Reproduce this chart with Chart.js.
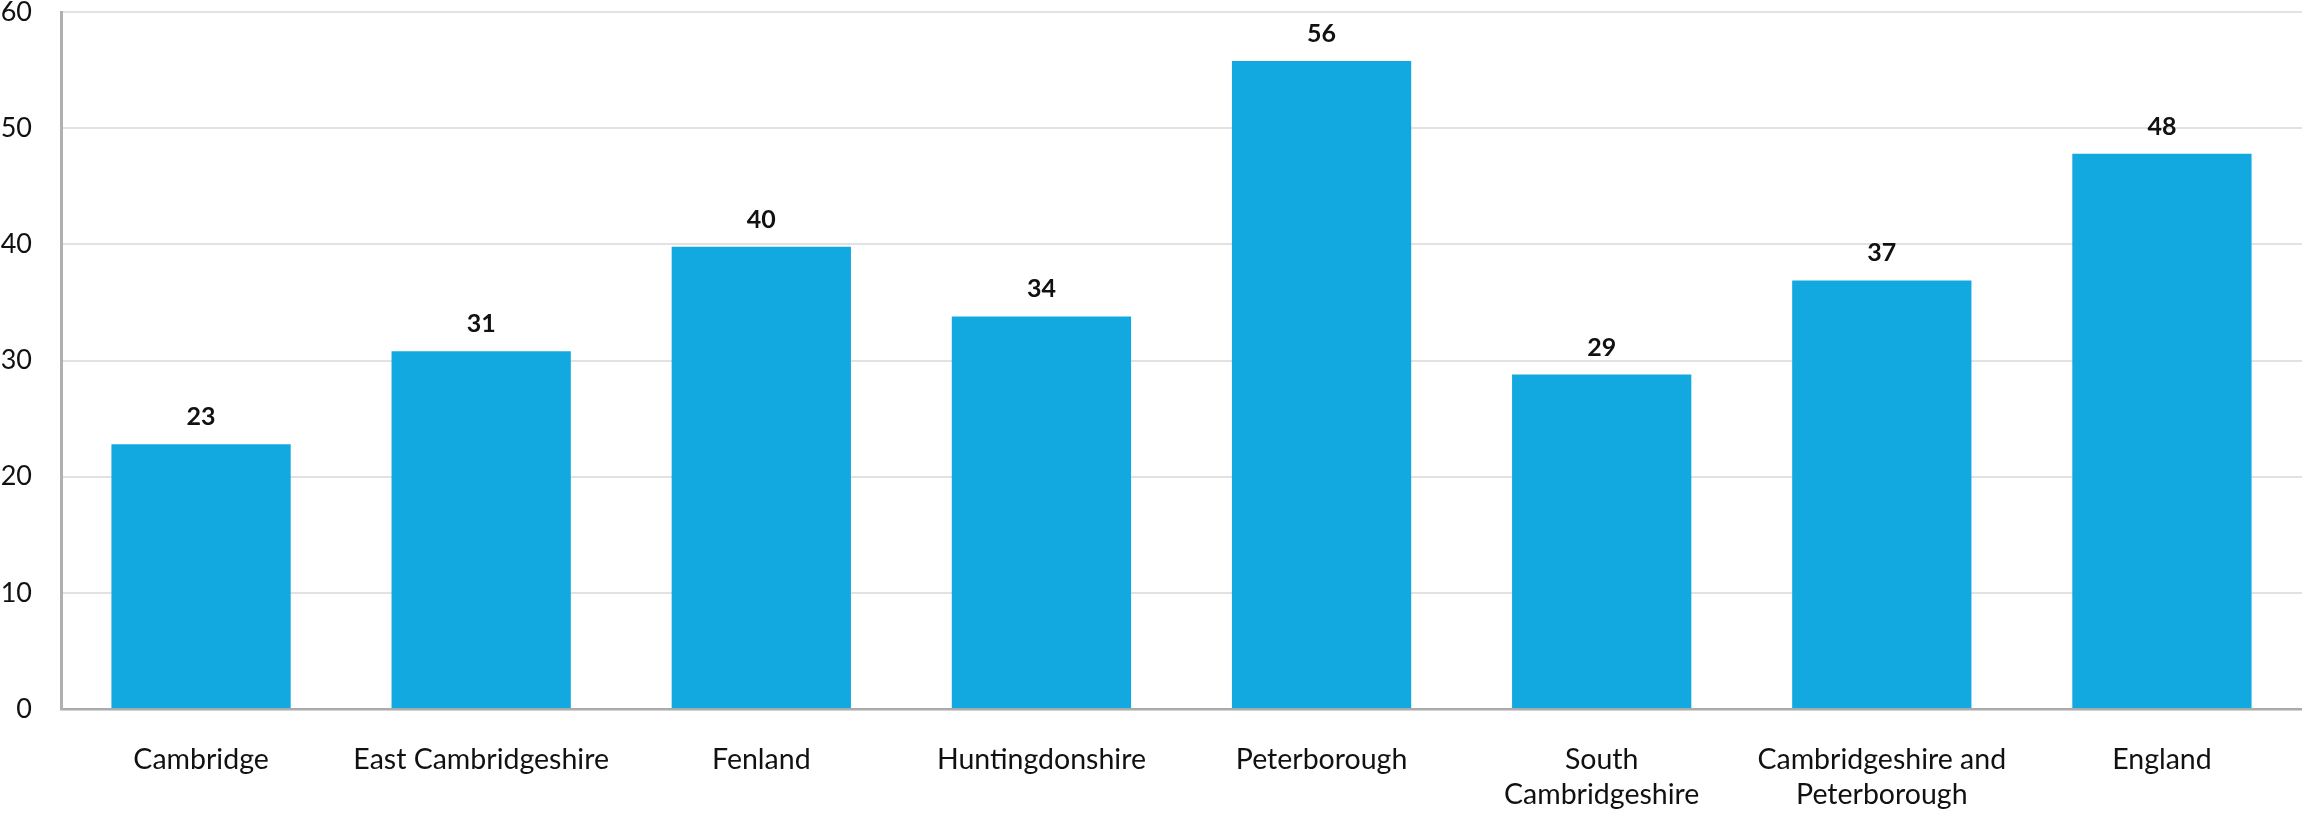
<!DOCTYPE html>
<html>
<head>
<meta charset="utf-8">
<script src="https://cdn.jsdelivr.net/npm/chart.js@4"></script>
<style>
  html, body { margin: 0; padding: 0; background: #fff; }
  #wrap { width: 2302px; height: 814px; }
</style>
</head>
<body>
<div id="wrap"><canvas id="barChart"></canvas></div>
<script>
var categories = [
  "Cambridge",
  "East Cambridgeshire",
  "Fenland",
  "Huntingdonshire",
  "Peterborough",
  ["South", "Cambridgeshire"],
  ["Cambridgeshire and", "Peterborough"],
  "England",
];
// labels show them rounded
var values = [22.8, 30.8, 39.8, 33.8, 55.8, 28.8, 36.9, 47.8];
var yTicks = [0, 10, 20, 30, 40, 50, 60];

var FONT = "Lato, sans-serif";

// draws the value above each bar
var valueLabels = {
  id: "valueLabels",
  afterDatasetsDraw: (chart) => {
    var ctx = chart.ctx;
    var meta = chart.getDatasetMeta(0);
    ctx.save();
    ctx.font = "bold 25px " + FONT;
    ctx.fillStyle = "#111";
    ctx.textAlign = "center";
    ctx.textBaseline = "alphabetic";
    meta.data.forEach((bar, i) => {
      var v = Math.round(chart.data.datasets[0].data[i]);
      ctx.fillText(v, bar.x, bar.y - 19);
    });
    ctx.restore();
  },
};

var ctxB = document.getElementById("barChart").getContext("2d");
var myBarChart = new Chart(ctxB, {
  type: "bar",
  plugins: [valueLabels],
  data: {
    labels: categories,
    datasets: [
      {
        data: values,
        backgroundColor: "#12a9e1",
        categoryPercentage: 1,
        barPercentage: 0.64,
      },
    ],
  },
  options: {
    responsive: true,
    maintainAspectRatio: false,
    animation: false,
    layout: { padding: 0 },
    plugins: {
      legend: { display: false },
      tooltip: { enabled: false },
    },
    scales: {
      x: {
        grid: { display: false, drawTicks: false },
        border: { display: true, color: "#aaaaaa", width: 2.5 },
        ticks: {
          color: "#111",
          padding: 33,
          maxRotation: 0,
          autoSkip: false,
          font: { family: FONT, size: 28.5, lineHeight: 1.23 },
        },
        afterFit: (scale) => {
          scale.height = 105;
        },
      },
      y: {
        min: 0,
        max: 60,
        afterBuildTicks: (scale) => {
          scale.ticks = yTicks.map((v) => ({ value: v }));
        },
        grid: {
          color: "#e2e2e2",
          lineWidth: 2,
          drawTicks: true,
          tickLength: 29,
          tickColor: "rgba(0,0,0,0)",
        },
        border: { display: true, color: "#b0b0b0", width: 3 },
        ticks: {
          color: "#111",
          padding: 0,
          font: { family: FONT, size: 27, lineHeight: 0.9 },
        },
        afterFit: (scale) => {
          scale.width = 61;
        },
      },
    },
  },
});
</script>
</body>
</html>
